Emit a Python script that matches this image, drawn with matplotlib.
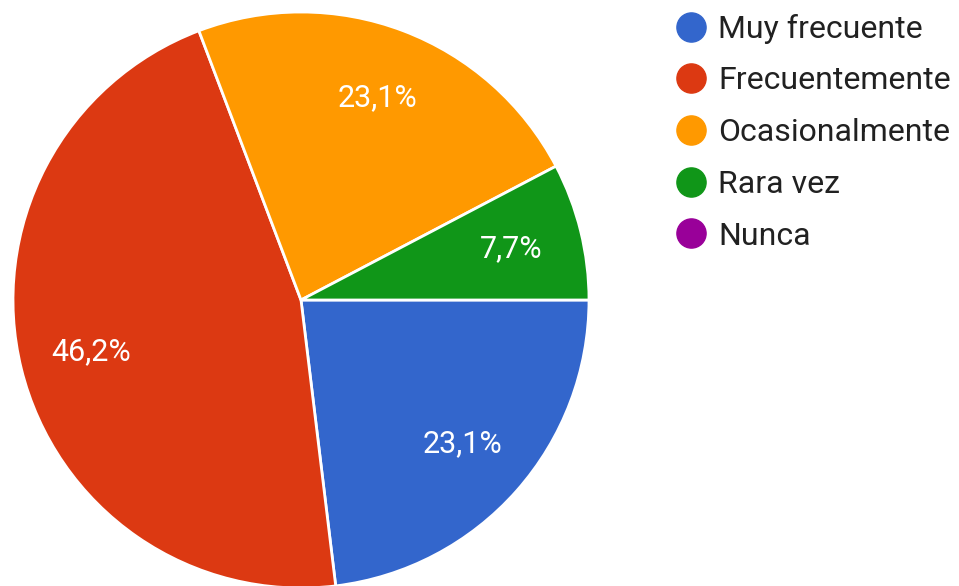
import matplotlib.pyplot as plt
from matplotlib.lines import Line2D

plt.rcParams['font.family'] = ['Roboto', 'DejaVu Sans']

# datos de la encuesta
categorias = ["Muy frecuente", "Frecuentemente", "Ocasionalmente", "Rara vez", "Nunca"]
porcentajes = [23.1, 46.2, 23.1, 7.7, 0.0]
colores = ["#3366cc", "#dc3912", "#ff9900", "#109618", "#990099"]

fig = plt.figure(figsize=(9.59, 5.86), dpi=100)

# eje del pastel: centro ~(301, 300) px, radio ~288 px
W, H = 959, 586
cx, cy, r = 301, 300, 288
ax = fig.add_axes([(cx - r) / W, (H - cy - r) / H, 2 * r / W, 2 * r / H])

valores = [v for v in porcentajes if v > 0]
cols = [c for v, c in zip(porcentajes, colores) if v > 0]

wedges, texts, autotexts = ax.pie(
    valores, colors=cols, startangle=0, counterclock=False,
    autopct=lambda p: f"{p:.1f}%".replace(".", ","), pctdistance=0.75,
    wedgeprops=dict(edgecolor="white", linewidth=2),
    textprops=dict(color="white", fontsize=22))
ax.set_xlim(-1, 1)
ax.set_ylim(-1, 1)
ax.set_aspect("equal")
ax.axis("off")

# leyenda con circulos
handles = [Line2D([], [], marker="o", linestyle="none", markersize=21,
                  markerfacecolor=c, markeredgecolor=c) for c in colores]
fig.legend(handles, categorias, loc="upper left",
           bbox_to_anchor=(662 / W, 1 - 1 / H), frameon=False,
           fontsize=23, labelspacing=0.71, handletextpad=0.35,
           handlelength=1.0, borderaxespad=0, labelcolor="#212121")

fig.savefig("out.png", dpi=100)
